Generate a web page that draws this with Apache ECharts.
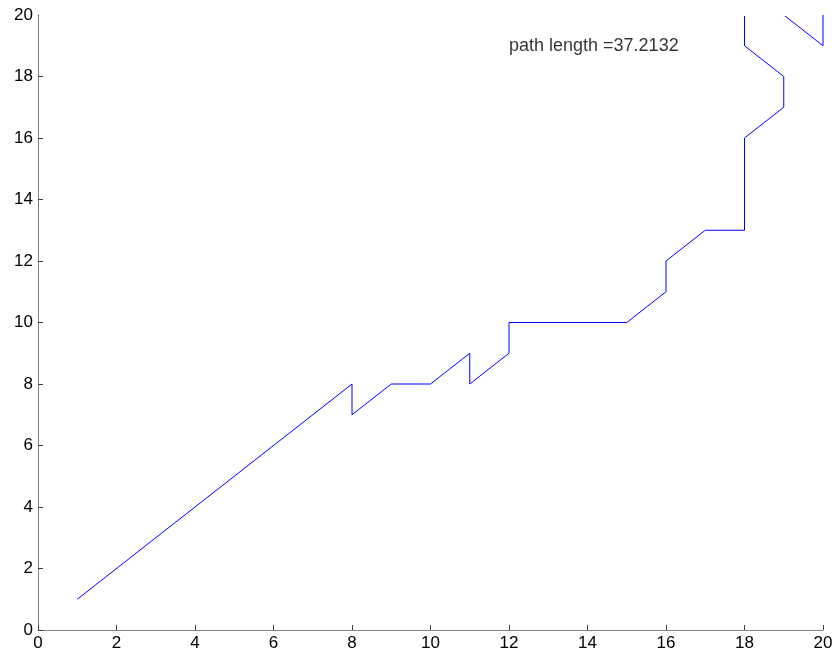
<!DOCTYPE html>
<html>
<head>
<meta charset="utf-8">
<script src="https://cdn.jsdelivr.net/npm/echarts@6/dist/echarts.min.js"></script>
<style>
  html, body { margin: 0; padding: 0; background: #fff; }
  #chart { width: 837px; height: 662px; }
</style>
</head>
<body>
<div id="chart"></div>
<script>
// Grid path visited, as (x, y) node coordinates
const pathX = [1, 8, 8, 9, 10, 11, 11, 12, 12, 15, 16, 16, 17, 18, 18, 19, 19, 18, 18, 19, 20, 20];
const pathY = [1, 8, 7, 8, 8, 9, 8, 9, 10, 10, 11, 12, 13, 13, 16, 17, 18, 19, 20, 20, 19, 20];
const pathLabel = 'path length =37.2132';
const labelPos = [12, 19];

const points = pathX.map((x, i) => [x, pathY[i]]);

const GRID = { left: 38, right: 14, top: 15, bottom: 32 };
const W = 837;

const axisCommon = {
  type: 'value',
  min: 0,
  max: 20,
  interval: 2,
  axisLine: { show: true, lineStyle: { color: '#808080', width: 1 } },
  axisTick: { show: true, inside: true, length: 5, lineStyle: { color: '#404040' } },
  axisLabel: { color: '#000', fontFamily: 'Liberation Sans, Arial, sans-serif', fontSize: 17 },
  splitLine: { show: false }
};

const chart = echarts.init(document.getElementById('chart'));
chart.setOption({
  animation: false,
  backgroundColor: '#fff',
  grid: Object.assign({ containLabel: false }, GRID),
  xAxis: Object.assign({}, axisCommon, { axisLabel: Object.assign({}, axisCommon.axisLabel, { margin: 5 }) }),
  yAxis: Object.assign({}, axisCommon, { axisLabel: Object.assign({}, axisCommon.axisLabel, { margin: 5 }) }),
  // the plot box clips anything lying on its upper edge
  graphic: [{
    type: 'rect',
    z: 100,
    silent: true,
    shape: { x: GRID.left + 1, y: 0, width: W - GRID.left - GRID.right - 2, height: GRID.top + 1 },
    style: { fill: '#fff' }
  }],
  series: [
    {
      type: 'line',
      data: points,
      showSymbol: false,
      clip: true,
      lineStyle: { color: '#0000ff', width: 1 },
      silent: true
    },
    {
      type: 'scatter',
      data: [labelPos],
      symbolSize: 0,
      silent: true,
      label: {
        show: true,
        position: 'right',
        distance: 0,
        formatter: pathLabel,
        color: '#000',
        fontFamily: 'Liberation Sans, Arial, sans-serif',
        fontSize: 18
      }
    }
  ]
});
</script>
</body>
</html>
